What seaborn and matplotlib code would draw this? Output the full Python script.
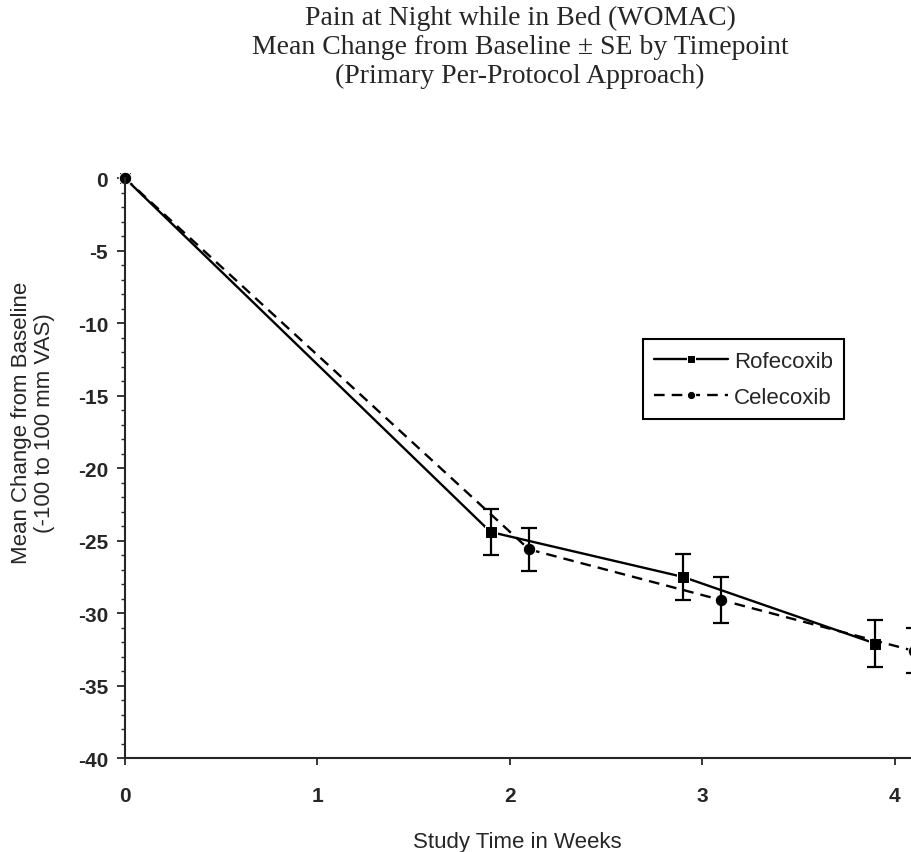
import pandas as pd
import matplotlib
matplotlib.use("Agg")
import matplotlib.pyplot as plt
import seaborn as sns
from matplotlib.ticker import MultipleLocator

# values
weeks_rofe = [0, 1.9, 2.9, 3.9]
mean_rofe = [0, -24.4, -27.5, -32.1]
se_rofe = [0, 1.6, 1.6, 1.6]

weeks_cele = [0, 2.1, 3.1, 4.1]
mean_cele = [0, -25.6, -29.1, -32.6]
se_cele = [0, 1.5, 1.6, 1.55]

drugs = ["Rofecoxib", "Celecoxib"]
x_ticks = [0, 1, 2, 3, 4]
y_ticks = [0, -5, -10, -15, -20, -25, -30, -35, -40]

df = pd.concat([
    pd.DataFrame({"week": weeks_cele, "change": mean_cele, "se": se_cele, "drug": drugs[1]}),
    pd.DataFrame({"week": weeks_rofe, "change": mean_rofe, "se": se_rofe, "drug": drugs[0]}),
], ignore_index=True)

sns.set_style("ticks")
plt.rcParams["font.family"] = ["Liberation Sans", "DejaVu Sans"]
plt.rcParams["axes.unicode_minus"] = False

fig = plt.figure(figsize=(9.11, 8.53), dpi=100)
ax = fig.add_axes([0.137, 0.110, 0.862, 0.680])

sns.lineplot(data=df, x="week", y="change", hue="drug", style="drug",
             hue_order=drugs, style_order=drugs,
             palette=["black", "black"],
             markers={"Rofecoxib": "s", "Celecoxib": "o"},
             dashes={"Rofecoxib": "", "Celecoxib": (4.5, 3)},
             markersize=9, linewidth=1.7, ax=ax, clip_on=False)

for name, grp in df.groupby("drug"):
    g = grp[grp["se"] > 0]
    ax.errorbar(g["week"], g["change"], yerr=g["se"], fmt="none",
                ecolor="black", elinewidth=1.6, capsize=6, capthick=1.6)

ax.set_xlim(0, 4.08)
ax.set_ylim(-40, 0)
ax.set_xticks(x_ticks)
ax.set_yticks(y_ticks)
ax.yaxis.set_minor_locator(MultipleLocator(1))
ax.tick_params(axis="x", direction="out", length=5, width=1.3, pad=15, labelsize=15)
ax.tick_params(axis="y", which="major", direction="out", length=6, width=1.3, pad=6, labelsize=15)
ax.tick_params(axis="y", which="minor", direction="out", length=3, width=1)
for lab in ax.get_xticklabels() + ax.get_yticklabels():
    lab.set_fontweight("bold")

sns.despine(ax=ax)
ax.spines["left"].set_linewidth(1.5)
ax.spines["bottom"].set_linewidth(1.5)

ax.set_xlabel("Study Time in Weeks", fontsize=16, va="center")
ax.xaxis.set_label_coords(0.5, -0.143)
ax.set_ylabel("Mean Change from Baseline\n(-100 to 100 mm VAS)", fontsize=16,
              va="center", linespacing=1.1)
ax.yaxis.set_label_coords(-0.117, 0.58)

handles, labels = ax.get_legend_handles_labels()
leg = ax.legend(handles, labels, loc="upper left", bbox_to_anchor=(0.646, 0.741),
                fontsize=16, handlelength=3.3, labelspacing=0.7, borderpad=0.5,
                handletextpad=0.3, fancybox=False, framealpha=1, edgecolor="black")
leg.get_frame().set_linewidth(1.5)
for h in leg.legend_handles:
    h.set_markersize(6)

fig.text(0.571, 0.993,
         "Pain at Night while in Bed (WOMAC)\n"
         "Mean Change from Baseline \u00b1 SE by Timepoint\n"
         "(Primary Per-Protocol Approach)",
         ha="center", va="top", fontsize=20, family="Liberation Serif", linespacing=1.2)

fig.savefig("out.png", dpi=100)
